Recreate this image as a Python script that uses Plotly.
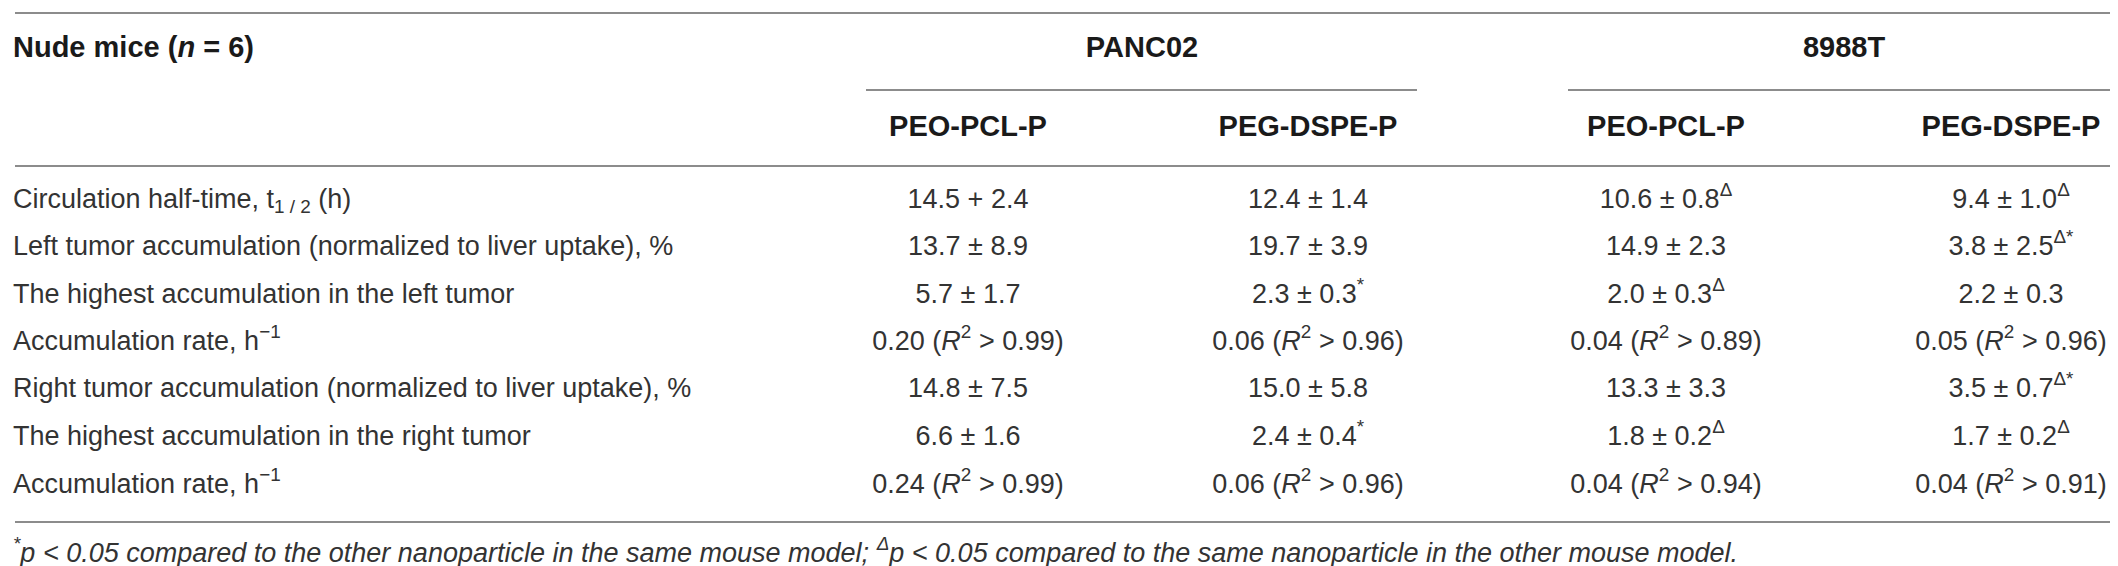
import plotly.graph_objects as go

W, H = 2118, 566

# table content
row_labels = [
    "Circulation half-time, t<sub>1 / 2</sub> (h)",
    "Left tumor accumulation (normalized to liver uptake), %",
    "The highest accumulation in the left tumor",
    "Accumulation rate, h<sup>−1</sup>",
    "Right tumor accumulation (normalized to liver uptake), %",
    "The highest accumulation in the right tumor",
    "Accumulation rate, h<sup>−1</sup>",
]
models = ["PANC02", "8988T"]
particles = ["PEO-PCL-P", "PEG-DSPE-P", "PEO-PCL-P", "PEG-DSPE-P"]

panc02_peo = ["14.5 + 2.4", "13.7 ± 8.9", "5.7 ± 1.7",
              "0.20 (<i>R</i><sup>2</sup> > 0.99)", "14.8 ± 7.5", "6.6 ± 1.6",
              "0.24 (<i>R</i><sup>2</sup> > 0.99)"]
panc02_peg = ["12.4 ± 1.4", "19.7 ± 3.9", "2.3 ± 0.3<sup>*</sup>",
              "0.06 (<i>R</i><sup>2</sup> > 0.96)", "15.0 ± 5.8", "2.4 ± 0.4<sup>*</sup>",
              "0.06 (<i>R</i><sup>2</sup> > 0.96)"]
t8988_peo = ["10.6 ± 0.8<sup>Δ</sup>", "14.9 ± 2.3", "2.0 ± 0.3<sup>Δ</sup>",
             "0.04 (<i>R</i><sup>2</sup> > 0.89)", "13.3 ± 3.3", "1.8 ± 0.2<sup>Δ</sup>",
             "0.04 (<i>R</i><sup>2</sup> > 0.94)"]
t8988_peg = ["9.4 ± 1.0<sup>Δ</sup>", "3.8 ± 2.5<sup>Δ*</sup>", "2.2 ± 0.3",
             "0.05 (<i>R</i><sup>2</sup> > 0.96)", "3.5 ± 0.7<sup>Δ*</sup>", "1.7 ± 0.2<sup>Δ</sup>",
             "0.04 (<i>R</i><sup>2</sup> > 0.91)"]
columns = [panc02_peo, panc02_peg, t8988_peo, t8988_peg]

footnote = ("<i><sup>*</sup>p < 0.05 compared to the other nanoparticle in the same mouse model; "
            "<sup>Δ</sup>p < 0.05 compared to the same nanoparticle in the other mouse model.</i>")

# layout (pixels)
col_x = [960, 1300, 1658, 2003]
model_x = [1134, 1836]
model_lines = [(858, 1409), (1560, 2113)]
left_x = 5
y_group = 42
y_sub_line = 82
y_head = 121
y_rule_top = 5
y_rule_head = 158
row_y = [193, 240, 288, 335, 382, 430, 478]
y_rule_bottom = 514
y_foot = 547

body_font = dict(family="Liberation Sans, Arial, sans-serif", size=27, color="#333333")
bold_font = dict(family="Liberation Sans, Arial, sans-serif", size=29, color="#1a1a1a")

fig = go.Figure()

# header
fig.add_trace(go.Scatter(x=[left_x], y=[y_group], mode="text",
                         text=["<b>Nude mice (<i>n</i> = 6)</b>"],
                         textposition="middle right", textfont=bold_font))
fig.add_trace(go.Scatter(x=model_x, y=[y_group] * len(models), mode="text",
                         text=[f"<b>{m}</b>" for m in models],
                         textposition="middle center", textfont=bold_font))
fig.add_trace(go.Scatter(x=col_x, y=[y_head] * len(particles), mode="text",
                         text=[f"<b>{p}</b>" for p in particles],
                         textposition="middle center", textfont=bold_font))

# body
fig.add_trace(go.Scatter(x=[left_x] * len(row_labels), y=row_y, mode="text",
                         text=row_labels, textposition="middle right", textfont=body_font))
for cx, vals in zip(col_x, columns):
    fig.add_trace(go.Scatter(x=[cx] * len(vals), y=row_y, mode="text",
                             text=vals, textposition="middle center", textfont=body_font))

# footnote
fig.add_trace(go.Scatter(x=[left_x], y=[y_foot], mode="text", text=[footnote],
                         textposition="middle right", textfont=body_font))

# rules
line_style = dict(color="#8c8c8c", width=2)
for yy in [y_rule_top, y_rule_head, y_rule_bottom]:
    fig.add_shape(type="line", x0=7, x1=2113, y0=yy, y1=yy, xref="x", yref="y", line=line_style)
for x0, x1 in model_lines:
    fig.add_shape(type="line", x0=x0, x1=x1, y0=y_sub_line, y1=y_sub_line,
                  xref="x", yref="y", line=line_style)

fig.update_traces(hoverinfo="skip", showlegend=False)
fig.update_xaxes(range=[0, W], visible=False)
fig.update_yaxes(range=[H, 0], visible=False)
fig.update_layout(width=W, height=H, margin=dict(l=0, r=0, t=0, b=0),
                  plot_bgcolor="white", paper_bgcolor="white")
fig.write_html("out.html")
